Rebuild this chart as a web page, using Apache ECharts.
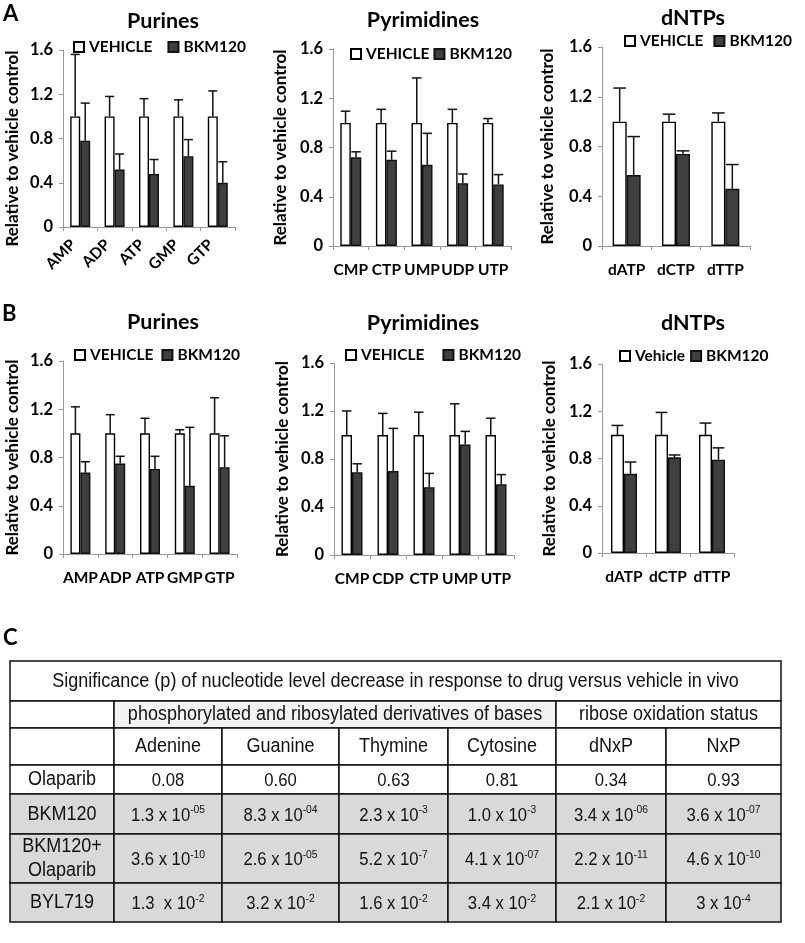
<!DOCTYPE html>
<html><head><meta charset="utf-8">
<script src="https://cdn.jsdelivr.net/npm/echarts@6/dist/echarts.min.js"></script>
<style>html,body{margin:0;padding:0;background:#fff}#c{width:805px;height:943px}</style>
</head><body><div id="c"></div>
<script>
// ---------- DATA ----------
// Panel A
const aPurCats = ['AMP','ADP','ATP','GMP','GTP'];
const aPurVeh = [1,1,1,1,1];
const aPurVehTop = [1.56,1.18,1.16,1.15,1.23];
const aPurBkm = [0.78,0.52,0.48,0.64,0.40];
const aPurBkmTop = [1.12,0.66,0.61,0.79,0.59];

const aPyrCats = ['CMP','CTP','UMP','UDP','UTP'];
const aPyrVeh = [1,1,1,1,1];
const aPyrVehTop = [1.095,1.11,1.365,1.11,1.035];
const aPyrBkm = [0.72,0.70,0.66,0.51,0.50];
const aPyrBkmTop = [0.765,0.77,0.915,0.585,0.58];

const aDntCats = ['dATP','dCTP','dTTP'];
const aDntVeh = [1,1,1];
const aDntVehTop = [1.27,1.06,1.07];
const aDntBkm = [0.57,0.74,0.46];
const aDntBkmTop = [0.88,0.765,0.655];

// Panel B
const bPurCats = ['AMP','ADP','ATP','GMP','GTP'];
const bPurVeh = [1,1,1,1,1];
const bPurVehTop = [1.22,1.155,1.125,1.03,1.295];
const bPurBkm = [0.675,0.75,0.705,0.565,0.72];
const bPurBkmTop = [0.765,0.81,0.81,1.05,0.98];

const bPyrCats = ['CMP','CDP','CTP','UMP','UTP'];
const bPyrVeh = [1,1,1,1,1];
const bPyrVehTop = [1.20,1.18,1.19,1.26,1.14];
const bPyrBkm = [0.69,0.70,0.565,0.92,0.59];
const bPyrBkmTop = [0.76,1.055,0.68,1.03,0.67];

const bDntCats = ['dATP','dCTP','dTTP'];
const bDntVeh = [1,1,1];
const bDntVehTop = [1.08,1.19,1.10];
const bDntBkm = [0.67,0.81,0.79];
const bDntBkmTop = [0.77,0.83,0.89];

const yTicks = [0,0.4,0.8,1.2,1.6];
const yName = 'Relative to vehicle control';

// Panel C table
const tTitle = 'Significance (p) of nucleotide level decrease in response to drug versus vehicle in vivo';
const tGroup1 = 'phosphorylated and ribosylated derivatives of bases';
const tGroup2 = 'ribose oxidation status';
const tHeads = ['Adenine','Guanine','Thymine','Cytosine','dNxP','NxP'];
const tRowNames = ['Olaparib','BKM120','BKM120+\nOlaparib','BYL719'];
const tOlaparib = ['0.08','0.60','0.63','0.81','0.34','0.93'];
const tBkm = ['1.3 x 10^-05','8.3 x 10^-04','2.3 x 10^-3','1.0 x 10^-3','3.4 x 10^-06','3.6 x 10^-07'];
const tBkmOla = ['3.6 x 10^-10','2.6 x 10^-05','5.2 x 10^-7','4.1 x 10^-07','2.2 x 10^-11','4.6 x 10^-10'];
const tByl = ['1.3  x 10^-2','3.2 x 10^-2','1.6 x 10^-2','3.4 x 10^-2','2.1 x 10^-2','3 x 10^-4'];

// ---------- LAYOUT ----------
const FONT = "Lato, 'Open Sans', 'DejaVu Sans', sans-serif";
const TFONT = "'Liberation Sans', Arial, sans-serif";

const charts = [
  {cats:aPurCats, veh:aPurVeh, vehTop:aPurVehTop, bkm:aPurBkm, bkmTop:aPurBkmTop, vehName:'VEHICLE', title:'Purines',
   L:{left:63, top:50, width:172, height:177, bw:10, rotate:45, margin:8, labelPad:[0,10,0,0], gap:42, lx:73, ly:48, lgap:15, tx:163, ty:21, namePad:[0,20,0,0]}},
  {cats:aPyrCats, veh:aPyrVeh, vehTop:aPyrVehTop, bkm:aPyrBkm, bkmTop:aPyrBkmTop, vehName:'VEHICLE', title:'Pyrimidines',
   L:{left:333, top:49, width:178, height:197, bw:10.5, rotate:0, margin:16, gap:44, lx:350, ly:55, lgap:4, tx:423, ty:20}},
  {cats:aDntCats, veh:aDntVeh, vehTop:aDntVehTop, bkm:aDntBkm, bkmTop:aDntBkmTop, vehName:'VEHICLE', title:'dNTPs',
   L:{left:602, top:47, width:148, height:199, bw:14, rotate:0, margin:16, gap:46, lx:624, ly:42, lgap:10, tx:693, ty:18}},
  {cats:bPurCats, veh:bPurVeh, vehTop:bPurVehTop, bkm:bPurBkm, bkmTop:bPurBkmTop, vehName:'VEHICLE', title:'Purines',
   L:{left:63, top:361, width:174, height:193, bw:10, rotate:0, margin:16, gap:42, lx:74, ly:356, lgap:8, tx:163, ty:322}},
  {cats:bPyrCats, veh:bPyrVeh, vehTop:bPyrVehTop, bkm:bPyrBkm, bkmTop:bPyrBkmTop, vehName:'VEHICLE', title:'Pyrimidines',
   L:{left:334, top:363, width:180, height:192, bw:10.5, rotate:0, margin:16, gap:43, lx:345, ly:356, lgap:18, tx:423, ty:323}},
  {cats:bDntCats, veh:bDntVeh, vehTop:bDntVehTop, bkm:bDntBkm, bkmTop:bDntBkmTop, vehName:'Vehicle', title:'dNTPs',
   L:{left:602, top:364, width:132, height:189, bw:13, rotate:0, margin:16, gap:44, lx:619, ly:357, lgap:5, tx:693, ty:323}}
];

const grid=[], xAxis=[], yAxis=[], series=[], legend=[], graphic=[];

function errSeries(i, vals, tops, off, capW){
  return {
    type:'custom', xAxisIndex:i, yAxisIndex:i, z:5, silent:true,
    data: vals.map((v,j)=>[j, tops[j], v]),
    renderItem: function(params, api){
      const t = api.coord([api.value(0), api.value(1)]);
      const b = api.coord([api.value(0), api.value(2)]);
      const cx = t[0] + off;
      const st = {stroke:'#111', lineWidth:1.5};
      return {type:'group', children:[
        {type:'line', shape:{x1:cx, y1:b[1], x2:cx, y2:t[1]}, style:st},
        {type:'line', shape:{x1:cx-capW/2, y1:t[1], x2:cx+capW/2, y2:t[1]}, style:st}
      ]};
    }
  };
}

charts.forEach((c,i)=>{
  const L = c.L;
  grid.push({left:L.left, top:L.top, width:L.width, height:L.height, containLabel:false});
  xAxis.push({type:'category', gridIndex:i, data:c.cats,
    axisLine:{lineStyle:{color:'#999', width:1}},
    axisTick:{show:true, length:4, alignWithLabel:false, interval:0, lineStyle:{color:'#999'}},
    axisLabel:{interval:0, rotate:L.rotate, margin:L.margin, padding:L.labelPad||0, color:'#000', fontFamily:FONT, fontWeight:'bold', fontSize:15.5}
  });
  yAxis.push({type:'value', gridIndex:i, min:0, max:1.6, interval:0.4,
    name:yName, nameLocation:'middle', nameRotate:90, nameGap:L.gap,
    nameTextStyle:{color:'#000', fontFamily:FONT, fontWeight:'bold', fontSize:17, padding:L.namePad||0},
    axisLine:{show:true, lineStyle:{color:'#999', width:1}},
    axisTick:{show:true, length:4, lineStyle:{color:'#999'}},
    splitLine:{show:false},
    axisLabel:{margin:10, color:'#000', fontFamily:FONT, fontWeight:'bold', fontSize:16.5,
      formatter: v => (yTicks.indexOf(+v.toFixed(1))>=0 ? (v===0?'0':v.toFixed(1)) : '')}
  });
  series.push({type:'bar', name:c.vehName, xAxisIndex:i, yAxisIndex:i, data:c.veh, barWidth:L.bw, barGap:'0%',
    itemStyle:{color:'#fff', borderColor:'#000', borderWidth:1.4}, silent:true});
  series.push({type:'bar', name:'BKM120', xAxisIndex:i, yAxisIndex:i, data:c.bkm, barWidth:L.bw, barGap:'0%',
    itemStyle:{color:'#3f3f3f', borderColor:'#111', borderWidth:1.4}, silent:true});
  series.push(errSeries(i, c.veh, c.vehTop, -L.bw/2, L.bw*0.9));
  series.push(errSeries(i, c.bkm, c.bkmTop, L.bw/2, L.bw*0.9));
  legend.push({left:L.lx, top:L.ly-9, data:[c.vehName,'BKM120'], icon:'rect', itemWidth:10, itemHeight:10,
    itemGap:L.lgap, selectedMode:false, padding:0,
    textStyle:{color:'#000', fontFamily:FONT, fontWeight:'bold', fontSize:15.5}});
  graphic.push({type:'text', x:L.tx, y:L.ty, style:{text:c.title, fill:'#000', font:'bold 21.5px '+FONT, align:'center', verticalAlign:'middle'}});
});

// panel letters
[['A',3,14],['B',2,314],['C',3,638]].forEach(p=>{
  graphic.push({type:'text', x:p[1], y:p[2], style:{text:p[0], fill:'#000', font:'bold 22px '+FONT, align:'left', verticalAlign:'middle'}});
});

// ---------- TABLE ----------
const cols = [10,114,222,339,448,556,666,781];
const rows = [661,701,728,765,794,834,883,922];
const GRAY = '#d9d9d9', LIGHT = '#f2f2f2';

function richVal(s){
  const k = s.indexOf('^');
  if(k<0) return '{b|'+s+'}';
  return '{b|'+s.slice(0,k)+'}{s|'+s.slice(k+1)+'}';
}
function cell(c0,c1,r,fill,text,opt){
  const x0=cols[c0], x1=cols[c1], y0=rows[r], y1=rows[r+1];
  graphic.push({type:'rect', shape:{x:x0,y:y0,width:x1-x0,height:y1-y0}, style:{fill:fill, stroke:'#111', lineWidth:1.5}, z:1});
  if(text!==undefined && text!==''){
    const o = opt||{};
    graphic.push({type:'text', x:(x0+x1)/2, y:(y0+y1)/2+(o.dy||0), z:2, scaleX:0.9, scaleY:1.0, style:{
      text: o.rich ? richVal(text) : text,
      fill:'#111', fontFamily:TFONT, fontSize:o.fs||18.5, lineHeight:o.lh||20,
      align:'center', verticalAlign:'middle',
      rich: o.rich ? {b:{fontSize:18.5, fontFamily:TFONT, fill:'#111', lineHeight:22, verticalAlign:'bottom'},
                      s:{fontSize:11.5, fontFamily:TFONT, fill:'#111', lineHeight:22, verticalAlign:'top', padding:[1,0,0,0]}} : undefined
    }});
  }
}
cell(0,7,0,'#fff',tTitle,{fs:20});
cell(0,1,1,'#fff','');
cell(1,5,1,LIGHT,tGroup1,{fs:20});
cell(5,7,1,'#fff',tGroup2,{fs:20});
cell(0,1,2,'#fff','');
tHeads.forEach((h,j)=>cell(j+1,j+2,2,'#fff',h,{fs:20}));
const tData = [tOlaparib,tBkm,tBkmOla,tByl];
tData.forEach((rowVals,ri)=>{
  const fill = ri===0 ? '#fff' : GRAY;
  cell(0,1,3+ri,fill,tRowNames[ri],{fs:20,lh:24});
  rowVals.forEach((v,j)=>cell(j+1,j+2,3+ri,fill,v,{rich:true}));
});

const chart = echarts.init(document.getElementById('c'), null, {renderer:'canvas'});
chart.setOption({animation:false, backgroundColor:'#fff', grid, xAxis, yAxis, series, legend, graphic});
</script></body></html>
